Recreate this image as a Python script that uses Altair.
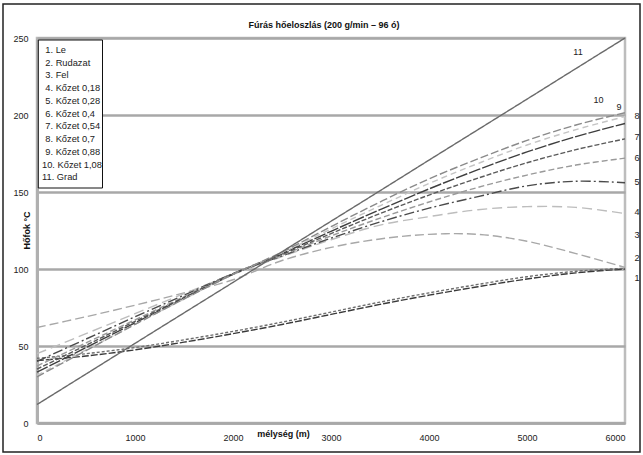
import altair as alt
import pandas as pd

# ---------------- data ----------------
depth = [0, 500, 1000, 1500, 2000, 2500, 3000, 3500, 4000, 4500, 5000, 5500, 6000]

le      = [40.5, 43.5, 47.5, 52.5, 58.0, 64.0, 70.5, 77.0, 83.0, 88.5, 93.5, 97.5, 100.0]
rudazat = [42.0, 45.0, 49.0, 54.0, 59.5, 65.5, 72.0, 78.5, 84.5, 90.0, 95.0, 98.5, 100.5]
fel     = [62.0, 69.0, 76.5, 84.5, 93.0, 105.5, 114.0, 119.5, 122.5, 122.5, 118.0, 110.0, 101.0]
k018    = [45.0, 58.0, 71.0, 84.0, 96.5, 108.0, 119.0, 128.5, 134.0, 138.5, 140.5, 140.0, 136.0]
k028    = [40.0, 54.5, 69.0, 83.0, 97.0, 108.5, 120.0, 130.5, 139.5, 147.0, 154.0, 157.0, 156.0]
k040    = [37.0, 52.0, 67.0, 82.0, 97.0, 109.0, 121.5, 133.0, 143.5, 153.0, 161.0, 167.5, 172.0]
k054    = [35.0, 50.5, 66.0, 81.5, 97.0, 109.5, 123.0, 136.0, 148.0, 159.0, 169.0, 177.5, 184.5]
k070    = [33.0, 49.0, 65.0, 81.0, 96.5, 110.0, 124.5, 138.5, 152.0, 164.5, 176.0, 186.0, 194.5]
k088    = [31.0, 47.5, 64.0, 80.5, 96.5, 110.5, 126.0, 141.0, 155.5, 168.5, 180.5, 190.5, 199.0]
k108    = [30.0, 47.0, 64.0, 80.5, 96.5, 111.0, 127.5, 143.5, 158.5, 171.5, 183.5, 193.5, 201.5]
grad    = [12.0, 31.8, 51.7, 71.5, 91.3, 111.2, 131.0, 150.8, 170.7, 190.5, 210.3, 230.2, 250.0]

series_names = ["1. Le", "2. Rudazat", "3. Fel", "4. Kőzet 0,18", "5. Kőzet 0,28",
                "6. Kőzet 0,4", "7. Kőzet 0,54", "8. Kőzet 0,7", "9. Kőzet 0,88",
                "10. Kőzet 1,08", "11. Grad"]
series_values = [le, rudazat, fel, k018, k028, k040, k054, k070, k088, k108, grad]

# end labels of the curves (annotation anchors: depth, temperature)
end_label_text  = ["1", "2", "3", "4", "5", "6", "7", "8", "9", "10", "11"]
end_label_depth = [6000, 6000, 6000, 6000, 6000, 6000, 6000, 6000, 5940, 5730, 5520]
end_label_temp  = [94.3, 107.3, 122.2, 137.1, 156.6, 172.2, 185.8, 199.4, 205.3, 209.8, 241.0]

x_ticks = [0, 1000, 2000, 3000, 4000, 5000, 6000]
y_ticks = [0, 50, 100, 150, 200, 250]

title_text = "Fúrás hőeloszlás (200 g/min – 96 ó)"
x_title = "mélység (m)"
y_title = "Hőfok °C"

# ---------------- styles ----------------
FONT = "Liberation Sans"
colors = ["#3a3a3a", "#6e6e6e", "#a8a8a8", "#bdbdbd", "#4a4a4a", "#9a9a9a",
          "#5a5a5a", "#3f3f3f", "#c4c4c4", "#8a8a8a", "#6a6a6a"]
dashes = [[7, 2], [3, 2], [9, 4], [10, 5], [10, 3, 2, 3], [6, 3],
          [5, 2], [12, 2], [6, 4], [8, 3], [1, 0]]

rows = []
for name, vals in zip(series_names, series_values):
    for d, v in zip(depth, vals):
        rows.append({"series": name, "depth": d, "temp": v})
df = pd.DataFrame(rows)

W, H = 588, 385
x_scale = alt.Scale(domain=[0, 6000], nice=False, zero=False)
y_scale = alt.Scale(domain=[0, 250], nice=False)

lines = alt.Chart(df).mark_line(strokeWidth=1.4, interpolate="catmull-rom").encode(
    x=alt.X("depth:Q", scale=x_scale,
            axis=alt.Axis(values=x_ticks, format="d", grid=False, ticks=False, labelPadding=10,
                          labelFont=FONT, labelFontSize=9, labelColor="#222",
                          domainColor="#a8a8a8", domainWidth=2.5,
                          title=x_title, titleFont=FONT, titleFontSize=9,
                          titleFontWeight="bold", titleColor="#111",
                          titleX=246, titleY=10, titleBaseline="middle",
                          titleAlign="center")),
    y=alt.Y("temp:Q", scale=y_scale,
            axis=alt.Axis(values=y_ticks, format="d", grid=True, gridColor="#a8a8a8",
                          gridWidth=2.5, ticks=False, labelPadding=9, labelFont=FONT,
                          labelFontSize=9, labelColor="#222", domainColor="#b0b0b0",
                          domainWidth=3, title=y_title, titleFont=FONT, titleFontSize=9,
                          titleFontWeight="bold", titleColor="#111", titleAngle=270,
                          titleX=-11, titleY=192, titleAlign="center",
                          titleBaseline="middle")),
    color=alt.Color("series:N", scale=alt.Scale(domain=series_names, range=colors), legend=None),
    strokeDash=alt.StrokeDash("series:N", scale=alt.Scale(domain=series_names, range=dashes),
                              legend=None),
)

# end labels
lab_df = pd.DataFrame({"t": end_label_text, "depth": end_label_depth, "temp": end_label_temp})
lab_out = lab_df[lab_df["depth"] == 6000]
lab_in = lab_df[lab_df["depth"] != 6000]
end_labels_out = alt.Chart(lab_out).mark_text(font=FONT, fontSize=9, color="#222",
                                              align="center", baseline="middle", dx=12).encode(
    x=alt.X("depth:Q", scale=x_scale), y=alt.Y("temp:Q", scale=y_scale), text="t:N")
end_labels_in = alt.Chart(lab_in).mark_text(font=FONT, fontSize=9, color="#222",
                                            align="center", baseline="middle").encode(
    x=alt.X("depth:Q", scale=x_scale), y=alt.Y("temp:Q", scale=y_scale), text="t:N")

# legend box
leg_df = pd.DataFrame({"label": series_names})
leg_df["i"] = range(len(series_names))
leg_df["py"] = 12 + leg_df["i"] * 12.73
leg_df["px"] = [5.0 if len(s.split(".")[0]) > 1 else 8.3 for s in series_names]
leg_box = alt.Chart(pd.DataFrame({"a": [0]})).mark_rect(
    fill="white", stroke="#111", strokeWidth=1).encode(
    x=alt.value(1.3), x2=alt.value(65.5), y=alt.value(2), y2=alt.value(150))
leg_text = alt.Chart(leg_df).mark_text(font=FONT, fontSize=9.3, color="#222",
                                       align="left", baseline="middle").encode(
    x=alt.X("px:Q", scale=None), y=alt.Y("py:Q", scale=None), text="label:N")

# title
title = alt.Chart(pd.DataFrame({"t": [title_text]})).mark_text(
    font=FONT, fontSize=9, fontWeight="bold", color="#111", align="center",
    baseline="middle").encode(x=alt.value(287), y=alt.value(-13), text="t:N")

# outer frame
frame = alt.Chart(pd.DataFrame({"a": [0]})).mark_rect(
    fill=None, stroke="#222", strokeWidth=1.5).encode(
    x=alt.value(-34), x2=alt.value(603), y=alt.value(-34), y2=alt.value(414))

chart = alt.layer(lines, end_labels_out, end_labels_in, leg_box, leg_text, title, frame).properties(
    width=W, height=H,
    padding={"left": 37, "top": 38, "right": 18, "bottom": 32},
    autosize=alt.AutoSizeParams(type="none"),
    background="white",
).configure_view(stroke="#bdbdbd", strokeWidth=2.5)

chart.save("out.html", embed_options={"renderer": "svg", "actions": False})
